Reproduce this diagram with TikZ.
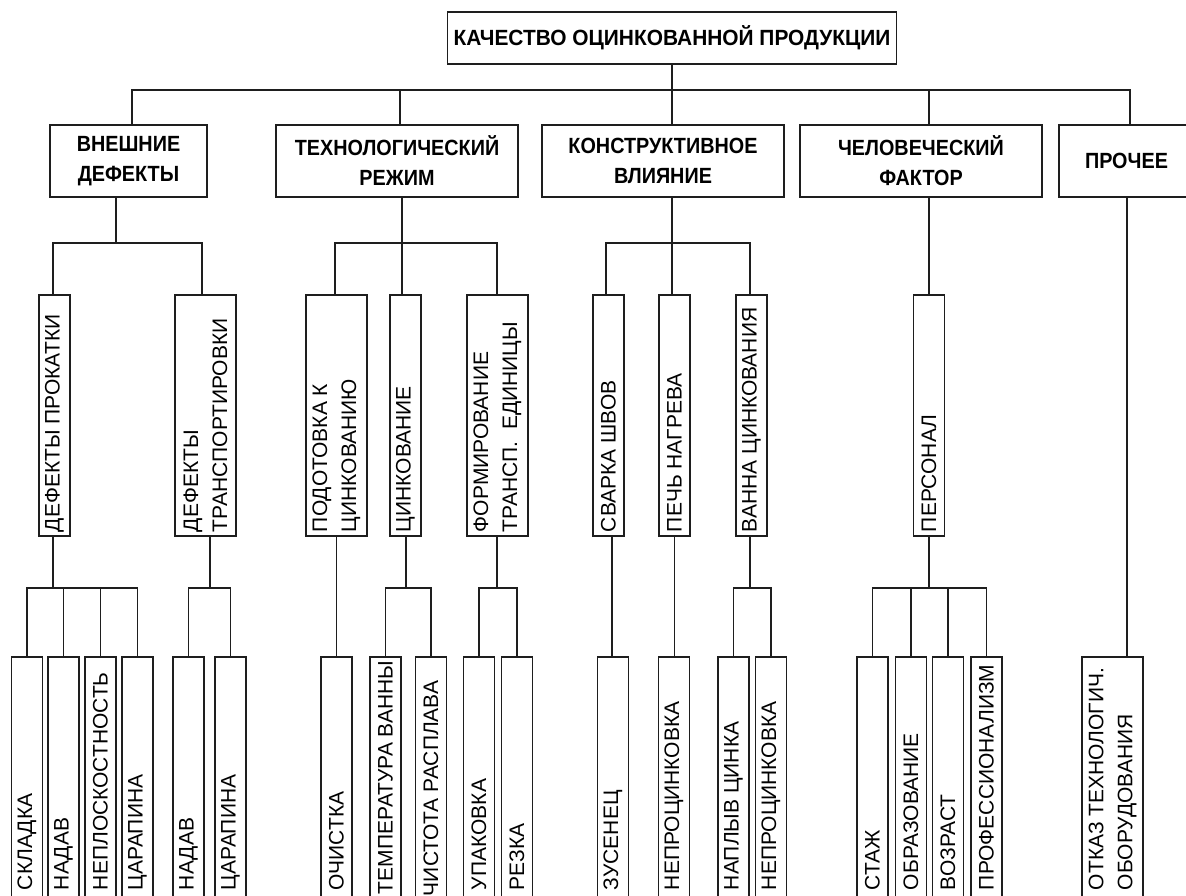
\documentclass[tikz,border=0pt]{standalone}
\usepackage{fontspec}
\setmainfont{Liberation Sans}
\newfontfamily\hbfont{Liberation Sans}[FakeStretch=0.9]
\newfontfamily\tbfont{Liberation Sans}[FakeStretch=0.95]
\usetikzlibrary{calc}
\definecolor{lc}{HTML}{1E1E1E}
\begin{document}
\begin{tikzpicture}[x=1pt,y=-1pt,
  every node/.style={inner sep=0pt, outer sep=0pt},
  hbox/.style={draw=lc, line width=1.8pt, fill=white, align=center,
    font=\hbfont\fontsize{22}{30}\selectfont\bfseries},
  vbox/.style={draw=lc, line width=1.8pt, fill=white},
  vtxt/.style={rotate=90, anchor=west, align=left,
    font=\fontsize{21}{29}\selectfont},
  conn/.style={draw=lc, line width=1.8pt}]
\useasboundingbox (0,0) rectangle (1186,896);
\clip (0,0) rectangle (1186,896);
\fill[white] (0,0) rectangle (1186,896);

% bus levels
\coordinate (b1) at (0,90);
\coordinate (b2) at (0,243);
\coordinate (b3) at (0,588);

% level 1
\node[hbox, minimum width=449, minimum height=52, font=\tbfont\fontsize{22}{30}\selectfont\bfseries] (top) at (672,38) {КАЧЕСТВО ОЦИНКОВАННОЙ ПРОДУКЦИИ};

% level 2
\node[hbox, minimum width=157, minimum height=72] (vn) at (128.5,161) {ВНЕШНИЕ\\ДЕФЕКТЫ};
\node[hbox, minimum width=242, minimum height=72] (tr) at (397,161) {ТЕХНОЛОГИЧЕСКИЙ\\РЕЖИМ};
\node[hbox, minimum width=242, minimum height=72] (kv) at (663,161) {КОНСТРУКТИВНОЕ\\ВЛИЯНИЕ};
\node[hbox, minimum width=242, minimum height=72] (cf) at (921,161) {ЧЕЛОВЕЧЕСКИЙ\\ФАКТОР};
\node[hbox, minimum width=135, minimum height=72] (pr) at (1126.5,161) {ПРОЧЕЕ};

\coordinate (vn-in) at ([xshift=3.5]vn.north);
\coordinate (tr-in) at ([xshift=3]tr.north);
\coordinate (kv-in) at ([xshift=9]kv.north);
\coordinate (cf-in) at ([xshift=8]cf.north);
\coordinate (pr-in) at ([xshift=3.5]pr.north);
\coordinate (vn-out) at ([xshift=-12.5]vn.south);
\coordinate (tr-out) at ([xshift=5]tr.south);
\coordinate (kv-out) at ([xshift=9]kv.south);
\coordinate (cf-out) at ([xshift=8]cf.south);
\coordinate (pr-out) at ([xshift=0.5]pr.south);

% level 3
\foreach \n/\c/\w/\t in {
  dp/54.5/31/{ДЕФЕКТЫ ПРОКАТКИ},
  dt/205.5/61/{ДЕФЕКТЫ\\ТРАНСПОРТИРОВКИ},
  pc/336.5/61/{ПОДОТОВКА К\\ЦИНКОВАНИЮ},
  zc/405.5/31/{ЦИНКОВАНИЕ},
  fe/497.5/61/{ФОРМИРОВАНИЕ\\ТРАНСП.~ ЕДИНИЦЫ},
  ss/608.5/31/{СВАРКА ШВОВ},
  pn/674.5/31/{ПЕЧЬ НАГРЕВА},
  vc/751.5/31/{ВАННА ЦИНКОВАНИЯ},
  ps/929/31/{ПЕРСОНАЛ}}{
  \node[vbox, minimum width=\w, minimum height=241] (\n) at (\c,415.5) {};
  \node[vtxt] (\n-t) at (\c,532) {\t};
}

% leaves
\foreach \n/\c/\w/\s/\t in {
  l1/27/31/890/{СКЛАДКА},
  l2/63.5/31/890/{НАДАВ},
  l3/100.5/31/890/{НЕПЛОСКОСТНОСТЬ},
  l4/137.5/31/890/{ЦАРАПИНА},
  l5/188.5/31/890/{НАДАВ},
  l6/230.5/31/890/{ЦАРАПИНА},
  l7/336.5/31/890/{ОЧИСТКА},
  l8/385.5/31/894/{ТЕМПЕРАТУРА ВАННЫ},
  l9/431/31/896/{ЧИСТОТА РАСПЛАВА},
  l10/479/31/890/{УПАКОВКА},
  l11/517/31/890/{РЕЗКА},
  l12/613/31/890/{ЗУСЕНЕЦ},
  l13/674/31/890/{НЕПРОЦИНКОВКА},
  l14/733.5/31/890/{НАПЛЫВ ЦИНКА},
  l15/771/31/890/{НЕПРОЦИНКОВКА},
  l16/872.5/31/890/{СТАЖ},
  l17/911/31/890/{ОБРАЗОВАНИЕ},
  l18/948/31/890/{ВОЗРАСТ},
  l19/986.5/31/890/{ПРОФЕССИОНАЛИЗМ},
  l20/1112.5/61/890/{ОТКАЗ ТЕХНОЛОГИЧ.\\ОБОРУДОВАНИЯ}}{
  \node[vbox, minimum width=\w, minimum height=273] (\n) at (\c,793.5) {};
  \node[vtxt] (\n-t) at (\c,\s) {\t};
}

% connectors level 1 -> 2
\draw[conn] (top.south) -- (kv-in);
\draw[conn] (vn-in) |- (pr-in |- b1) -- (pr-in);
\draw[conn] (tr-in) -- (tr-in |- b1);
\draw[conn] (cf-in) -- (cf-in |- b1);

% level 2 -> 3
\coordinate (dp-in) at ([xshift=-1.5]dp.north);
\coordinate (dt-in) at ([xshift=-3.5]dt.north);
\coordinate (pc-in) at ([xshift=-1.5]pc.north);
\coordinate (zc-in) at ([xshift=-3.5]zc.north);
\coordinate (fe-in) at ([xshift=-0.5]fe.north);
\coordinate (ss-in) at ([xshift=-2.5]ss.north);
\coordinate (pn-in) at ([xshift=-2.5]pn.north);
\coordinate (vc-in) at ([xshift=-1.5]vc.north);
\draw[conn] (vn-out) -- (vn-out |- b2);
\draw[conn] (dp-in) |- (dt-in |- b2) -- (dt-in);
\draw[conn] (tr-out) -- (tr-out |- b2);
\draw[conn] (pc-in) |- (fe-in |- b2) -- (fe-in);
\draw[conn] (zc-in) -- (zc-in |- b2);
\draw[conn] (kv-out) -- (pn-in);
\draw[conn] (ss-in) |- (vc-in |- b2) -- (vc-in);
\draw[conn] (cf-out) -- (cf-out |- ps.north);
\draw[conn] (pr-out) -- (pr-out |- l20.north);

% level 3 -> leaves
\coordinate (dp-out) at ([xshift=-1.5]dp.south);
\coordinate (dt-out) at ([xshift=4.5]dt.south);
\coordinate (zc-out) at ([xshift=0.5]zc.south);
\coordinate (fe-out) at ([xshift=-0.5]fe.south);
\coordinate (ss-out) at ([xshift=3.5]ss.south);
\coordinate (vc-out) at ([xshift=-1.5]vc.south);
\draw[conn] (dp-out) -- (dp-out |- b3);
\draw[conn] (l1.north) |- (l4.north |- b3) -- (l4.north);
\draw[conn] (l2.north) -- (l2.north |- b3);
\draw[conn] (l3.north) -- (l3.north |- b3);
\draw[conn] (dt-out) -- (dt-out |- b3);
\draw[conn] (l5.north) |- (l6.north |- b3) -- (l6.north);
\draw[conn] (pc.south) -- (l7.north);
\draw[conn] (zc-out) -- (zc-out |- b3);
\draw[conn] (l8.north) |- (l9.north |- b3) -- (l9.north);
\draw[conn] (fe-out) -- (fe-out |- b3);
\draw[conn] (l10.north) |- (l11.north |- b3) -- (l11.north);
\draw[conn] (ss-out) -- (ss-out |- l12.north);
\draw[conn] (pn.south) -- (pn.south |- l13.north);
\draw[conn] (vc-out) -- (vc-out |- b3);
\draw[conn] (l14.north) |- (l15.north |- b3) -- (l15.north);
\draw[conn] (ps.south) -- (ps.south |- b3);
\draw[conn] (l16.north) |- (l19.north |- b3) -- (l19.north);
\draw[conn] (l17.north) -- (l17.north |- b3);
\draw[conn] (l18.north) -- (l18.north |- b3);
\end{tikzpicture}
\end{document}
